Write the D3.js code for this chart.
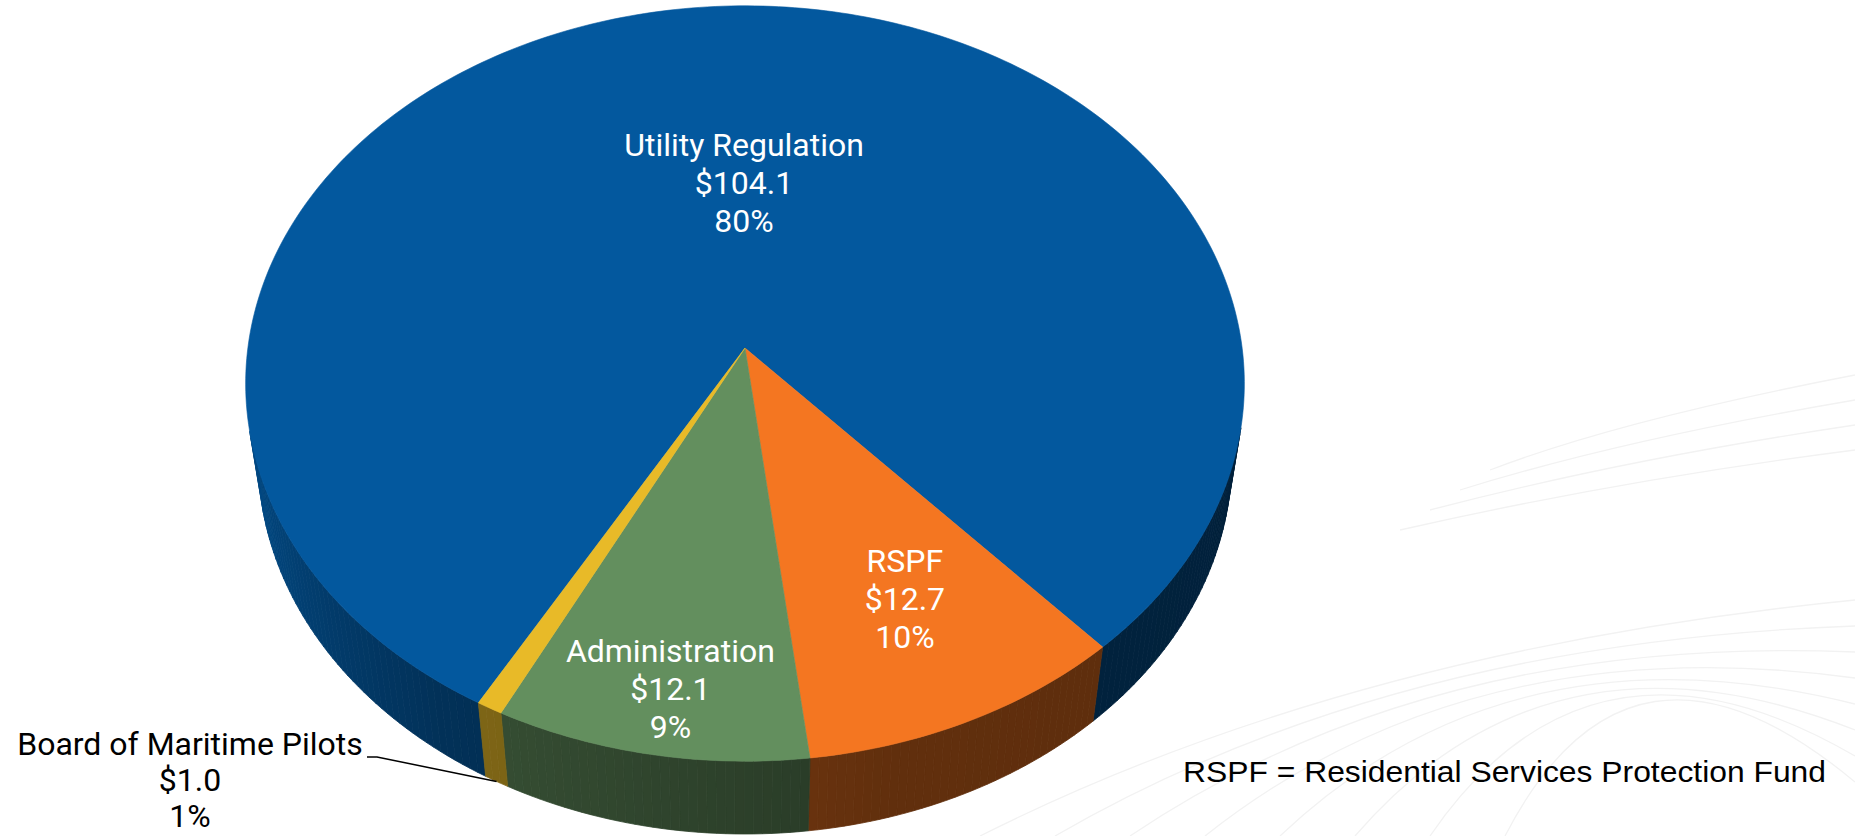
<!DOCTYPE html>
<html>
<head>
<meta charset="utf-8">
<script src="https://cdn.jsdelivr.net/npm/d3@7"></script>
<style>
  html, body { margin: 0; padding: 0; background: #fff; }
  svg { display: block; }
  .lbl { font-family: Roboto, "Noto Sans", sans-serif; font-size: 32px; }
  .note { font-family: "Liberation Sans", Arial, sans-serif; font-size: 30px; }
</style>
</head>
<body>
<svg id="chart" width="1855" height="836"></svg>
<script>

// chart data
const categories = ['Utility Regulation', 'RSPF', 'Administration', 'Board of Maritime Pilots'];
const amounts = [104.1, 12.7, 12.1, 1.0];
const topColors = ['#03589e', '#f47621', '#638f5e', '#e8ba28'];
const footnote = 'RSPF = Residential Services Protection Fund';

const data = categories.map((name, i) => ({name: name, value: amounts[i], color: topColors[i]}));
const total = d3.sum(amounts);
const fmtMoney = d => '$' + d3.format('.1f')(d);
const fmtPct = d3.format('.0%');

// camera / 3d settings for the tilted pie
const cx = 745, cy = 348;
const dist = 7, focal = 3480, thick = 0.24;
const sinE = 0.753, cosE = Math.sqrt(1 - sinE * sinE);
const deg = Math.PI / 180;

// a: angle clockwise from the back of the pie, r: radius (1 = rim), z: 0 top, -thick bottom
function project(a, r, z) {
  const X = r * Math.sin(a), Y = r * Math.cos(a);
  const depth = dist + Y * cosE - z * sinE;
  const sy = Y * sinE + z * cosE;
  return [cx + focal * X / depth, cy - focal * sy / depth];
}

function steps(a0, a1) {
  const n = Math.max(2, Math.ceil((a1 - a0) / deg));
  return d3.range(n + 1).map(i => a0 + (a1 - a0) * i / n);
}

const rot = -150.5 * deg;
const pie = d3.pie().sort(null).value(d => d.value)
  .startAngle(rot).endAngle(rot + 2 * Math.PI);
const slices = pie(data);

const svg = d3.select('#chart');

// faint background swooshes
const bg = svg.append('g').attr('fill', 'none').attr('stroke', '#f2f2f2').attr('stroke-width', 1.3);
d3.range(8).forEach(i => {
  bg.append('path')
    .attr('d', `M${980 + i * 75},836 Q${1350 + i * 40},${650 - i * 8} 1855,${600 + i * 26}`);
});
d3.range(4).forEach(i => {
  bg.append('path')
    .attr('d', `M${1400 + i * 30},${530 - i * 20} Q1620,${480 - i * 20} 1855,${450 - i * 25}`);
});

// wall shading: darker on the right, lighter to the left
const shade = d3.scaleLinear().domain([100, 165, 215, 260]).range([0.37, 0.40, 0.56, 0.85]).clamp(true);
const visLimit = -1 / (dist * cosE);

const line = d3.line();
const walls = svg.append('g');
for (let s of slices) {
  const angs = steps(s.startAngle, s.endAngle);
  for (let i = 0; i < angs.length - 1; i++) {
    const m = (angs[i] + angs[i + 1]) / 2;
    if (Math.cos(m) >= visLimit) continue;
    const dn = ((m / deg) % 360 + 360) % 360;
    const c = d3.rgb(s.data.color);
    const f = shade(dn);
    const col = d3.rgb(c.r * f, c.g * f, c.b * f).formatHex();
    const pts = [
      project(angs[i], 1, 0), project(angs[i + 1], 1, 0),
      project(angs[i + 1], 1, -thick), project(angs[i], 1, -thick)
    ];
    walls.append('path')
      .attr('d', line(pts) + 'Z')
      .attr('fill', col)
      .attr('stroke', col)
      .attr('stroke-width', 0.8);
  }
}

// top faces
svg.append('g')
  .selectAll('path')
  .data(slices)
  .enter()
  .append('path')
  .attr('d', s => line([project(0, 0, 0)].concat(steps(s.startAngle, s.endAngle).map(a => project(a, 1, 0)))) + 'Z')
  .attr('fill', s => s.data.color)
  .attr('stroke', s => s.data.color)
  .attr('stroke-width', 0.6);

// labels inside slices
const labelLayout = {
  'Utility Regulation': {r: 0.46, da: 6},
  'RSPF': {r: 0.70, da: -1.2},
  'Administration': {r: 0.85, da: -0.6}
};
const lineGap = 38;

for (let s of slices) {
  const lay = labelLayout[s.data.name];
  if (!lay) continue;
  const mid = (s.startAngle + s.endAngle) / 2 + lay.da * deg;
  const p = project(mid, lay.r, 0);
  const t = svg.append('text')
    .attr('class', 'lbl')
    .attr('fill', '#fff')
    .attr('text-anchor', 'middle');
  [s.data.name, fmtMoney(s.data.value), fmtPct(s.data.value / total)].forEach((txt, i) => {
    t.append('tspan').attr('x', p[0]).attr('y', p[1] + 11 + (i - 1) * lineGap).text(txt);
  });
}

// outside label with leader for the thin slice
const small = slices[3];
const smallMid = (small.startAngle + small.endAngle) / 2;
const tip = project(smallMid, 1, -thick);
svg.append('path')
  .attr('d', line([[367, 757], [377, 757], tip]))
  .attr('fill', 'none')
  .attr('stroke', '#000')
  .attr('stroke-width', 1.5);

const ot = svg.append('text')
  .attr('class', 'lbl')
  .attr('fill', '#000')
  .attr('text-anchor', 'middle');
[small.data.name, fmtMoney(small.data.value), fmtPct(small.data.value / total)].forEach((txt, i) => {
  ot.append('tspan').attr('x', 190).attr('y', 755 + i * 36).text(txt);
});

// footnote
svg.append('text')
  .attr('class', 'note')
  .attr('x', 1183)
  .attr('y', 782)
  .attr('fill', '#000')
  .attr('textLength', 643)
  .attr('lengthAdjust', 'spacingAndGlyphs')
  .text(footnote);

</script>
</body>
</html>
